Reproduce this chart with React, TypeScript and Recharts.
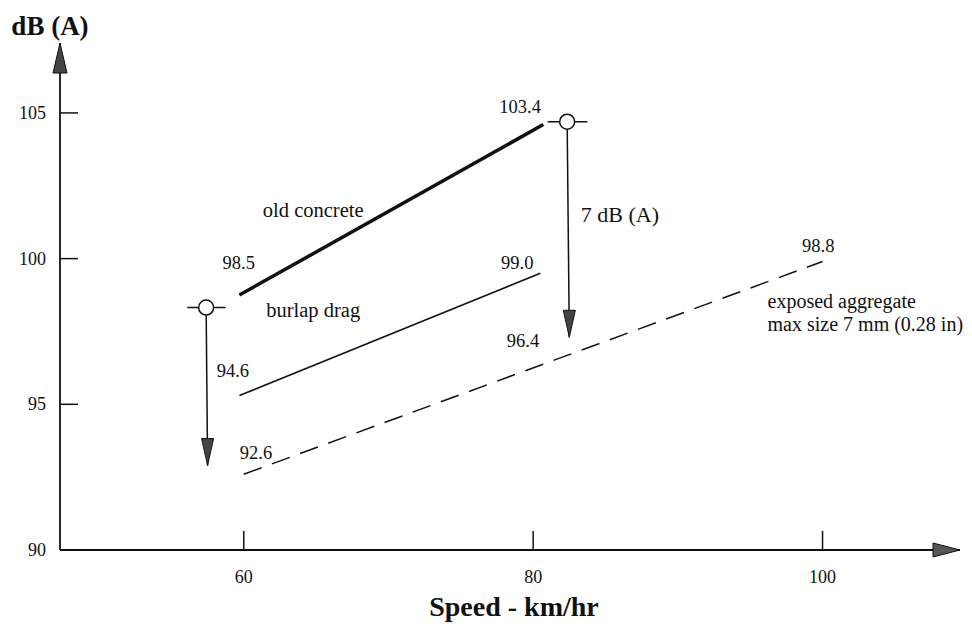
import React from "react";
import {
  ComposedChart,
  Line,
  XAxis,
  YAxis,
  ReferenceDot,
} from "recharts";

// speed (km/hr) and noise level dB(A)
const oldConcreteSpeed = [59.7, 80.7];
const oldConcreteDb = [98.75, 104.6];
const burlapSpeed = [59.7, 80.5];
const burlapDb = [95.3, 99.5];
const aggregateSpeed = [60, 100];
const aggregateDb = [92.6, 99.9];

// the two "drop" markers: circle then arrow tip
const leftDropSpeed = [57.4, 57.5];
const leftDropDb = [98.32, 92.9];
const rightDropSpeed = [82.35, 82.5];
const rightDropDb = [104.7, 97.3];
const leftCrossSpeed = [56.1, 58.75];
const rightCrossSpeed = [81.0, 83.75];

const speedTicks = [60, 80, 100];
const dbTicks = [90, 95, 100, 105];
const speedDomain = [47.3, 109.5];
const dbDomain = [90, 107.4];

// value notes: [speed, dB, text]
const valueNotes: [number, number, string][] = [
  [59.65, 99.86, "98.5"],
  [59.25, 96.16, "94.6"],
  [60.85, 93.32, "92.6"],
  [79.1, 105.2, "103.4"],
  [78.9, 99.86, "99.0"],
  [79.3, 97.16, "96.4"],
  [99.7, 100.45, "98.8"],
];
const nameNotes: [number, number, string][] = [
  [64.8, 101.68, "old concrete"],
  [64.8, 98.25, "burlap drag"],
];
const sideNotes: [number, number, string][] = [
  [96.2, 98.56, "exposed aggregate"],
  [96.2, 97.77, "max size 7 mm (0.28 in)"],
];
const dropNote: [number, number, string] = [86.0, 101.5, "7 dB (A)"];

const pts = (xs: number[], ys: number[]) => xs.map((x, i) => ({ x, y: ys[i] }));

const INK = "#111";
const FONT = "'Liberation Serif', 'DejaVu Serif', serif";

const YTick = (p: any) => {
  const { x, y, payload } = p;
  return (
    <g>
      {payload.value > dbDomain[0] && (
        <line x1={x} x2={x + 18} y1={y} y2={y} stroke={INK} strokeWidth={1.5} />
      )}
      <text x={x - 14} y={y} textAnchor="end" dominantBaseline="central" fontSize={18} fill={INK}>
        {payload.value}
      </text>
    </g>
  );
};

const XTick = (p: any) => {
  const { x, y, payload } = p;
  return (
    <g>
      <line x1={x} x2={x} y1={y} y2={y - 19} stroke={INK} strokeWidth={1.5} />
      <text x={x} y={y + 27} textAnchor="middle" dominantBaseline="central" fontSize={18} fill={INK}>
        {payload.value}
      </text>
    </g>
  );
};

const DropDot = (p: any) => {
  const { cx, cy, index } = p;
  if (index === 0) {
    return <circle key={`c${index}`} cx={cx} cy={cy} r={7.5} fill="#fff" stroke={INK} strokeWidth={1.5} />;
  }
  return (
    <path
      key={`a${index}`}
      d={`M${cx - 6},${cy - 27} L${cx + 6},${cy - 27} L${cx},${cy} Z`}
      fill="#444"
      stroke={INK}
      strokeWidth={1}
    />
  );
};

const noteShape = (text: string, anchor: string, size: number) => (p: any) => (
  <text x={p.cx} y={p.cy} textAnchor={anchor} dominantBaseline="central" fontSize={size} fill={INK}>
    {text}
  </text>
);

const xArrow = (p: any) => (
  <path d={`M${p.cx},${p.cy} L${p.cx - 27},${p.cy - 7} L${p.cx - 27},${p.cy + 7} Z`} fill="#555" stroke={INK} strokeWidth={1} />
);
const yArrow = (p: any) => (
  <path d={`M${p.cx},${p.cy} L${p.cx - 7},${p.cy + 30} L${p.cx + 7},${p.cy + 30} Z`} fill="#444" stroke={INK} strokeWidth={1} />
);

export default function App() {
  return (
    <div style={{ position: "absolute", left: 0, top: 0, width: 972, height: 633, background: "#fff", fontFamily: FONT }}>
      <ComposedChart width={972} height={633} margin={{ top: 43, right: 12, bottom: 0, left: 0 }}>
        <XAxis
          type="number"
          dataKey="x"
          domain={speedDomain}
          ticks={speedTicks}
          allowDataOverflow
          height={83}
          tickSize={0}
          tickMargin={0}
          tick={XTick}
          axisLine={{ stroke: INK, strokeWidth: 1.8 }}
          label={{
            value: "Speed - km/hr",
            position: "insideBottom",
            offset: 17,
            dx: 4,
            fontSize: 28,
            fontWeight: "bold",
            fill: INK,
          }}
        />
        <YAxis
          type="number"
          dataKey="y"
          domain={dbDomain}
          ticks={dbTicks}
          allowDataOverflow
          width={60}
          tickSize={0}
          tickMargin={0}
          tick={YTick}
          axisLine={{ stroke: INK, strokeWidth: 1.8 }}
          label={{
            value: "dB (A)",
            position: "top",
            offset: 8,
            dx: 20,
            fontSize: 27,
            fontWeight: "bold",
            fill: INK,
          }}
        />
        <Line data={pts(oldConcreteSpeed, oldConcreteDb)} dataKey="y" stroke={INK} strokeWidth={3.5} dot={false} activeDot={false} isAnimationActive={false} />
        <Line data={pts(burlapSpeed, burlapDb)} dataKey="y" stroke={INK} strokeWidth={1.6} dot={false} activeDot={false} isAnimationActive={false} />
        <Line data={pts(aggregateSpeed, aggregateDb)} dataKey="y" stroke={INK} strokeWidth={1.5} strokeDasharray="19 11" dot={false} activeDot={false} isAnimationActive={false} />
        <Line data={pts(leftCrossSpeed, [leftDropDb[0], leftDropDb[0]])} dataKey="y" stroke={INK} strokeWidth={1.5} dot={false} activeDot={false} isAnimationActive={false} />
        <Line data={pts(rightCrossSpeed, [rightDropDb[0], rightDropDb[0]])} dataKey="y" stroke={INK} strokeWidth={1.5} dot={false} activeDot={false} isAnimationActive={false} />
        <Line data={pts(leftDropSpeed, leftDropDb)} dataKey="y" stroke={INK} strokeWidth={1.5} dot={DropDot} activeDot={false} isAnimationActive={false} />
        <Line data={pts(rightDropSpeed, rightDropDb)} dataKey="y" stroke={INK} strokeWidth={1.5} dot={DropDot} activeDot={false} isAnimationActive={false} />
        {valueNotes.map(([x, y, t]) => (
          <ReferenceDot key={t} x={x} y={y} r={1} shape={noteShape(t, "middle", 18.5)} />
        ))}
        {nameNotes.map(([x, y, t]) => (
          <ReferenceDot key={t} x={x} y={y} r={1} shape={noteShape(t, "middle", 20.5)} />
        ))}
        {sideNotes.map(([x, y, t]) => (
          <ReferenceDot key={t} x={x} y={y} r={1} shape={noteShape(t, "start", 20)} />
        ))}
        <ReferenceDot x={dropNote[0]} y={dropNote[1]} r={1} shape={noteShape(dropNote[2], "middle", 22)} />
        <ReferenceDot x={speedDomain[1]} y={dbDomain[0]} r={1} shape={xArrow} />
        <ReferenceDot x={speedDomain[0]} y={dbDomain[1]} r={1} shape={yArrow} />
      </ComposedChart>
    </div>
  );
}
